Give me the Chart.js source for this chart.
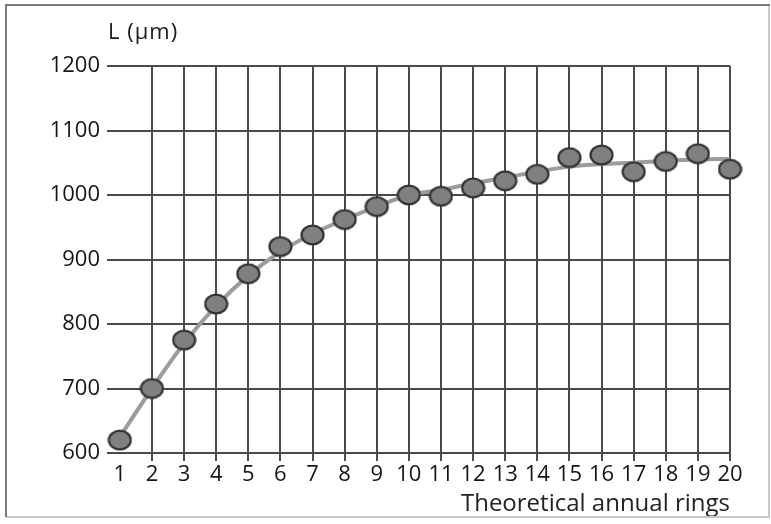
<!DOCTYPE html>
<html>
<head>
<meta charset="utf-8">
<script src="https://cdn.jsdelivr.net/npm/chart.js@4/dist/chart.umd.min.js"></script>
<style>
    html, body { margin: 0; padding: 0; background: #fff; }
    #wrap { width: 771px; height: 524px; }
</style>
</head>
<body>
<div id="wrap"><canvas id="ringChart" width="771" height="524"></canvas></div>
<script>
// Tracheid length vs theoretical annual ring
const rings = [1, 2, 3, 4, 5, 6, 7, 8, 9, 10, 11, 12, 13, 14, 15, 16, 17, 18, 19, 20];
const lengths = [620, 700, 775, 831, 878, 920, 938, 962, 982, 1000, 998, 1011, 1022, 1032, 1058, 1062, 1036, 1052, 1064, 1040];
const trend = [625, 700, 770, 828, 875, 912, 940, 962, 982, 1000, 1008, 1018, 1027, 1036, 1044, 1048, 1050, 1053, 1055, 1056];
const yTicks = [600, 700, 800, 900, 1000, 1100, 1200];

const yTitle = 'L (μm)';
const xTitle = 'Theoretical annual rings';

// Ellipse marker (the dots are a bit wider than tall)
function makeMarker() {
    const c = document.createElement('canvas');
    c.width = 25;
    c.height = 22;
    const g = c.getContext('2d');
    g.beginPath();
    g.ellipse(12.5, 11, 11, 9.4, 0, 0, Math.PI * 2);
    g.fillStyle = '#808080';
    g.fill();
    g.lineWidth = 2.2;
    g.strokeStyle = '#333';
    g.stroke();
    return c;
}

// Outer frame + y axis caption
const framePlugin = {
    id: 'frame',
    afterDraw(chart) {
        const ctx = chart.ctx;
        ctx.save();
        ctx.lineWidth = 2;
        ctx.strokeStyle = '#c8c8c8';
        ctx.beginPath();
        ctx.moveTo(769, 5);
        ctx.lineTo(769, 517);
        ctx.lineTo(6, 517);
        ctx.stroke();
        ctx.strokeStyle = '#7a7a7a';
        ctx.beginPath();
        ctx.moveTo(6, 517);
        ctx.lineTo(6, 5);
        ctx.lineTo(770, 5);
        ctx.stroke();

        ctx.fillStyle = '#1a1a1a';
        ctx.font = '22px "Open Sans"';
        ctx.letterSpacing = '1px';
        ctx.textAlign = 'left';
        ctx.textBaseline = 'alphabetic';
        ctx.fillText(yTitle, chart.chartArea.left + 1, 39);
        ctx.restore();
    }
};

const gridColor = '#4a4a4a';

new Chart(document.getElementById('ringChart').getContext('2d'), {
    type: 'line',
    data: {
        datasets: [
            {
                label: 'trend',
                data: rings.map((r, i) => ({ x: r, y: trend[i] })),
                borderColor: '#9c9c9c',
                borderWidth: 4,
                pointRadius: 0,
                cubicInterpolationMode: 'monotone',
                fill: false,
                clip: false,
                order: 2
            },
            {
                label: 'L',
                data: rings.map((r, i) => ({ x: r, y: lengths[i] })),
                showLine: false,
                pointStyle: makeMarker(),
                pointRadius: 11,
                clip: false,
                order: 1
            }
        ]
    },
    options: {
        responsive: false,
        animation: false,
        layout: {
            padding: { left: 0, right: 41, top: 66, bottom: 5 }
        },
        plugins: {
            legend: { display: false },
            tooltip: { enabled: false }
        },
        scales: {
            x: {
                type: 'linear',
                min: 0.6,
                max: 20,
                afterBuildTicks: scale => {
                    scale.ticks = rings.map(v => ({ value: v }));
                },
                afterFit: scale => {
                    scale.height = 524 - 453 - 5;
                },
                border: { display: false },
                grid: {
                    color: c => (c.tick && c.tick.value === 1) ? 'rgba(0,0,0,0)' : gridColor,
                    lineWidth: 2,
                    tickLength: 8
                },
                ticks: {
                    color: '#151515',
                    padding: 1,
                    maxRotation: 0,
                    autoSkip: false,
                    font: { family: 'Open Sans', size: 22 },
                    callback: v => String(v)
                },
                title: {
                    display: true,
                    text: xTitle,
                    align: 'end',
                    color: '#222',
                    padding: { top: 0, bottom: 0 },
                    font: { family: 'Open Sans', size: 24 }
                }
            },
            y: {
                min: 600,
                max: 1200,
                afterBuildTicks: scale => {
                    scale.ticks = yTicks.map(v => ({ value: v }));
                },
                afterFit: scale => {
                    scale.width = 107;
                },
                border: { display: false },
                grid: {
                    color: gridColor,
                    lineWidth: 2,
                    drawTicks: false
                },
                ticks: {
                    color: '#151515',
                    padding: 7,
                    font: { family: 'Open Sans', size: 22 },
                    callback: v => String(v)
                }
            }
        }
    },
    plugins: [framePlugin]
});
</script>
</body>
</html>
